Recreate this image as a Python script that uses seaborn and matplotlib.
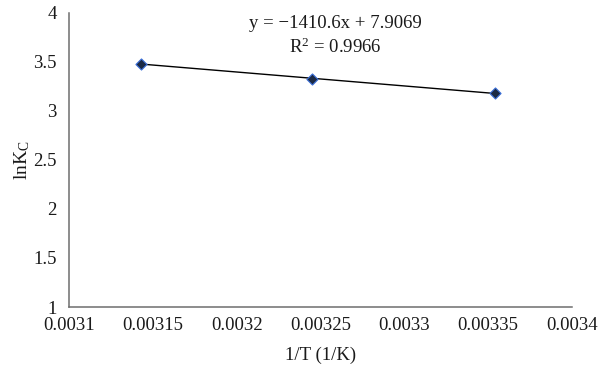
import numpy as np
import pandas as pd
import matplotlib
matplotlib.use("Agg")
import matplotlib.pyplot as plt
import seaborn as sns

# data
inv_T = [0.003143, 0.003245, 0.003354]
ln_kc = [3.48, 3.33, 3.18]
x_ticks = [0.0031, 0.00315, 0.0032, 0.00325, 0.0033, 0.00335, 0.0034]
x_tick_labels = ["0.0031", "0.00315", "0.0032", "0.00325", "0.0033", "0.00335", "0.0034"]
y_ticks = [1, 1.5, 2, 2.5, 3, 3.5, 4]
y_tick_labels = ["1", "1.5", "2", "2.5", "3", "3.5", "4"]
eq_text = "y = \u22121410.6x + 7.9069"
r2_text = "R$^2$ = 0.9966"

df = pd.DataFrame({"invT": inv_T, "lnKc": ln_kc})

sns.set_style("white")
plt.rcParams["font.family"] = ["Liberation Serif", "DejaVu Serif"]
plt.rcParams["mathtext.fontset"] = "custom"
plt.rcParams["mathtext.rm"] = "Liberation Serif"
plt.rcParams["mathtext.it"] = "Liberation Serif:italic"

fig = plt.figure(figsize=(6, 3.69), dpi=100)
ax = fig.add_axes([0.115, 0.168, 0.838, 0.797])

# linear trendline + markers
sns.regplot(data=df, x="invT", y="lnKc", ax=ax, ci=None, marker="D",
            scatter_kws={"s": 32, "color": "#1b2a45", "edgecolors": "#3a6fd8",
                         "linewidths": 0.8, "zorder": 3, "alpha": 1},
            line_kws={"color": "black", "linewidth": 1, "zorder": 2})

ax.set_xlim(0.0031, 0.0034)
ax.set_ylim(1, 4)
ax.set_xticks(x_ticks)
ax.set_xticklabels(x_tick_labels)
ax.set_yticks(y_ticks)
ax.set_yticklabels(y_tick_labels)
ax.tick_params(axis="both", length=0, labelsize=13.5, colors="#1a1a1a")
ax.tick_params(axis="x", pad=7.5)
ax.tick_params(axis="y", pad=9)

sns.despine(ax=ax)
for s in ["left", "bottom"]:
    ax.spines[s].set_color("#6e6e6e")
    ax.spines[s].set_linewidth(1.1)

ax.set_xlabel("1/T (1/K)", fontsize=13.5, color="#1a1a1a", labelpad=9)
ax.set_ylabel("lnK$_\\mathrm{C}$", fontsize=14, color="#1a1a1a", labelpad=1)

ax.text(0.003259, 3.895, eq_text, ha="center", va="center", fontsize=13.5, color="#1a1a1a")
ax.text(0.003259, 3.645, r2_text, ha="center", va="center", fontsize=13.5, color="#1a1a1a")

fig.savefig("out.png", dpi=100)
